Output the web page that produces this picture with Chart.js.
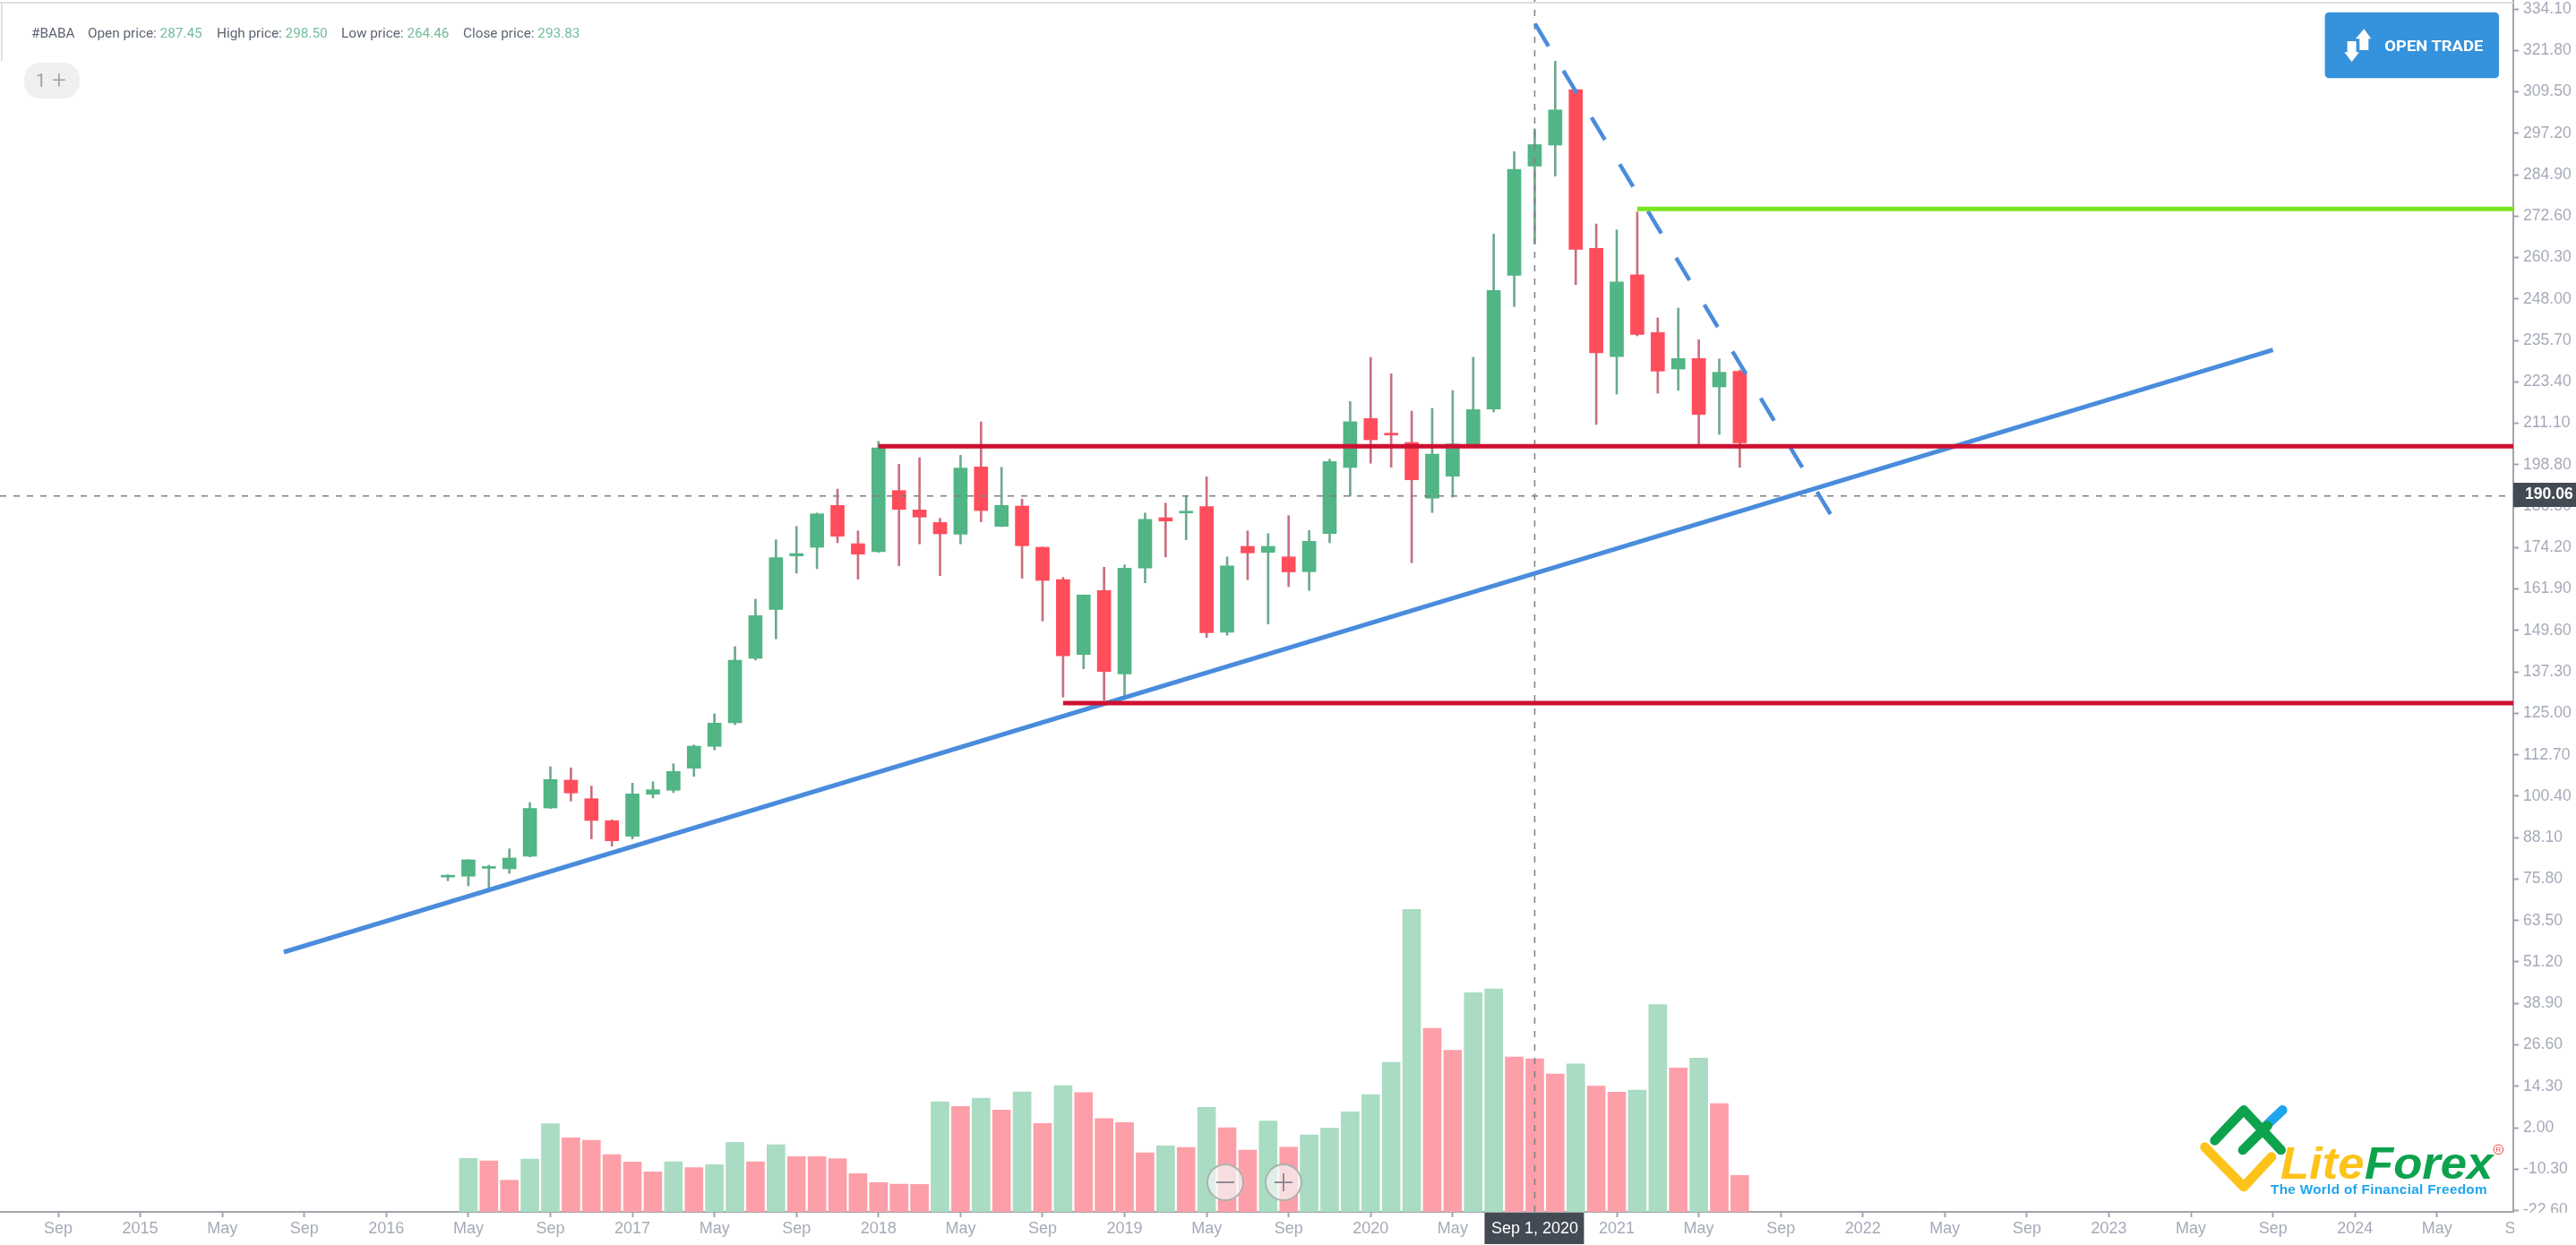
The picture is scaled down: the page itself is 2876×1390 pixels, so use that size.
<!DOCTYPE html>
<html><head><meta charset="utf-8">
<script src="https://cdn.jsdelivr.net/npm/chart.js@4/dist/chart.umd.min.js"></script>
<style>
html,body{margin:0;padding:0;background:#fff;width:2876px;height:1390px;overflow:hidden}
#wrap{position:relative;width:2876px;height:1390px;font-family:Roboto,sans-serif}
canvas{position:absolute;left:0;top:0}
.t{position:absolute;top:28px;font-size:15.3px;line-height:18px;color:#5c6472;white-space:nowrap}
.v{color:#72bd9b}
#pill{position:absolute;left:27px;top:70px;width:62px;height:40px;border-radius:18px;background:#f0f0f0;color:#a0a0a0;font-size:20px}
.frame{position:absolute;background:#dfdfdf}
svg{position:absolute}
.zb{position:absolute;top:1299px;width:42px;height:42px;border-radius:50%;background:rgba(245,245,245,.72);border:2px solid #aab2ad;box-sizing:border-box}
</style></head><body>
<div id="wrap">
<canvas id="c" width="2876" height="1390"></canvas>
<div class="frame" style="left:0;top:2px;width:2806px;height:2px"></div>
<div class="frame" style="left:1px;top:2px;width:2px;height:66px"></div>
<div class="t" style="left:35px">#BABA</div>
<div class="t" style="left:98px">Open price: <span class="v">287.45</span></div>
<div class="t" style="left:242px">High price: <span class="v">298.50</span></div>
<div class="t" style="left:381px">Low price: <span class="v">264.46</span></div>
<div class="t" style="left:517px">Close price: <span class="v">293.83</span></div>
<div id="pill"><span style="position:absolute;left:13px;top:8px">1</span><span style="position:absolute;left:31px;top:3px;font-size:28px;font-weight:300">+</span></div>

<svg style="left:2500px;top:0" width="376" height="300" viewBox="0 0 1128 900">
<rect x="287" y="41" width="583" height="221" rx="14" fill="#3592dc"/>
<path d="M418 97 L442 130 L433 130 L433 168 L403 168 L403 130 L390 130 Z" fill="#fff"/>
<path d="M377 207 L402 175 L392 175 L392 138 L362 138 L362 175 L352 175 Z" fill="#fff"/>
<text x="487" y="170" font-family="Roboto" font-weight="700" font-size="52" fill="#fff" textLength="330" lengthAdjust="spacingAndGlyphs">OPEN TRADE</text>
</svg>

<div class="zb" style="left:1347px"><div style="position:absolute;left:9px;top:18px;width:20px;height:2px;background:#8d8d95"></div></div>
<div class="zb" style="left:1412px"><div style="position:absolute;left:9px;top:18px;width:20px;height:2px;background:#8d8d95"></div><div style="position:absolute;left:18px;top:9px;width:2px;height:20px;background:#8d8d95"></div></div>

<svg style="left:2400px;top:1180px" width="476" height="210" viewBox="0 0 1428 630">
<path d="M385 235 L445 178" stroke="#1fa5ec" stroke-width="32" stroke-linecap="round" fill="none"/>
<path d="M218 280 L315 178 L440 312" stroke="#0da34d" stroke-width="32" stroke-linecap="round" stroke-linejoin="round" fill="none"/>
<path d="M312 312 L395 230" stroke="#0da34d" stroke-width="32" stroke-linecap="round" fill="none"/>
<path d="M185 302 L315 435 L408 335" stroke="#fdc31a" stroke-width="32" stroke-linecap="round" stroke-linejoin="round" fill="none"/>
<text x="438" y="408" font-family="Liberation Sans" font-weight="700" font-style="italic" font-size="150" fill="#fdc31a" textLength="280" lengthAdjust="spacingAndGlyphs">Lite</text>
<text x="720" y="408" font-family="Liberation Sans" font-weight="700" font-style="italic" font-size="150" fill="#0da34d" textLength="430" lengthAdjust="spacingAndGlyphs">Forex</text>
<text x="405" y="458" font-family="Liberation Sans" font-weight="700" font-size="46" fill="#1fa5ec" textLength="725" lengthAdjust="spacing">The World of Financial Freedom</text>
<circle cx="1168" cy="310" r="16" fill="none" stroke="#ee4040" stroke-width="3"/>
<text x="1168" y="319" text-anchor="middle" font-family="Liberation Sans" font-size="24" fill="#ee4040">R</text>
</svg>
</div>
<script>
// Month index: 0 = Sep 2014, one step per month. First candle is Apr 2016 (19).
const firstCandleMonth = 19;
const opens  = [76.4,76.64,79.0,78.85,82.58,96.92,105.17,99.66,93.12,88.5,100.99,102.17,108.71,115.19,122.18,141.33,155.87,171.72,174.3,186.72,175.36,172.97,191.13,185.39,181.66,178.21,198.15,180.5,186.53,174.3,164.73,142.47,161.46,136.73,168.11,183.07,184.48,186.35,149.04,174.57,172.78,171.45,167.04,178.37,197.96,212.51,208.07,205.41,188.85,195.39,204.88,215.33,255.05,287.45,293.69,310.17,263.03,230.86,255.21,238.04,227.21,230.32,221.9,226.5];
const highs  = [77.1,81.6,79.91,84.78,98.52,109.15,108.81,103.39,93.39,104.29,104.72,110.03,115.62,124.85,144.8,158.9,176.51,180.5,184.48,191.58,179.17,205.76,198.95,200.89,182.89,201.61,211.52,198.05,188.57,174.38,165.34,160.2,168.37,169.06,184.48,187.41,189.46,195.23,171.45,179.17,178.37,183.69,179.27,200.44,217.56,230.67,225.8,214.72,215.51,220.83,230.67,267.28,291.74,298.5,318.6,310.2,270.29,268.51,273.83,242.37,245.29,235.91,230.22,226.95];
const lows   = [75.3,73.79,73.08,77.52,82.39,96.74,98.97,87.7,85.57,87.7,99.93,101.45,106.32,114.13,121.65,140.8,147.1,166.59,167.92,175.63,164.81,172.78,168.79,175.29,165.88,175.29,181.82,180.42,165.07,152.42,129.82,138.21,128.91,130.25,163.74,171.45,176.51,147.53,148.16,164.65,151.52,162.6,161.46,175.63,189.46,199.22,198.05,169.7,184.59,189.19,204.75,214.45,245.74,264.46,284.46,252.29,210.73,219.77,237.05,220.03,220.91,204.35,207.8,198.05];
const closes = [76.7,81.51,79.2,82.04,96.74,105.36,101.36,93.2,87.17,101.1,102.32,107.75,115.27,122.1,140.8,154.01,171.19,172.44,184.22,177.57,172.26,203.81,185.55,183.26,178.29,197.78,185.2,186.72,174.75,164.46,142.05,160.13,137.42,168.11,182.62,182.09,184.94,148.96,168.79,172.63,174.57,166.99,176.08,199.75,211.6,206.21,207.62,194.32,201.95,204.96,215.17,250.53,286.51,293.83,304.13,262.76,232.0,253.08,237.5,226.6,230.32,213.73,226.23,205.33];

// Volume bars start one month later than the candles (May 2016).
const firstVolumeMonth = 20;
const volumes = [15.86,15.15,9.39,15.68,26.14,21.97,21.26,17.01,14.79,11.87,14.88,13.11,13.99,20.64,14.88,19.93,16.39,16.39,15.77,11.34,8.68,8.23,8.15,32.7,31.28,33.76,30.21,35.62,26.23,37.48,35.44,27.73,26.49,17.54,19.58,19.14,31.01,24.99,18.34,26.94,19.22,22.86,24.81,29.68,34.82,44.4,89.77,54.5,47.94,65.05,66.2,45.99,45.46,40.94,43.95,37.31,35.53,36.15,61.5,42.71,45.64,32.17,10.81];
const volumeUp = [1,0,0,1,1,0,0,0,0,0,1,0,1,1,0,1,0,0,0,0,0,0,0,1,0,1,0,1,0,1,0,0,0,0,1,0,1,0,0,1,0,1,1,1,1,1,1,0,0,1,1,0,0,0,1,0,0,1,1,0,1,0,0];

const priceTicks = [334.1,321.8,309.5,297.2,284.9,272.6,260.3,248.0,235.7,223.4,211.1,198.8,186.5,174.2,161.9,149.6,137.3,125.0,112.7,100.4,88.1,75.8,63.5,51.2,38.9,26.6,14.3,2.0,-10.3,-22.6];
const timeTickMonths = [0,4,8,12,16,20,24,28,32,36,40,44,48,52,56,60,64,68,72,76,80,84,88,92,96,100,104,108,112,116,120];
const timeTickLabels = ['Sep','2015','May','Sep','2016','May','Sep','2017','May','Sep','2018','May','Sep','2019','May','Sep','2020','May','Sep','2021','May','Sep','2022','May','Sep','2023','May','Sep','2024','May','Sep'];

// Drawn tools [month, price]
const riseLine    = [[11.0,54.12],[108.0,232.9]];
const fallLine    = [[72.02,329.66],[86.57,182.65]];
const resistLine  = [[40,204.26],[119.72,204.26]];
const supportLine = [[49,128.04],[119.72,128.04]];
const greenLine   = [[77,274.73],[119.72,274.73]];
const crossMonth = 72, crossPrice = 189.55;
const crossDateLabel = 'Sep 1, 2020', crossPriceLabel = '190.06';

const X_MIN=-2.84, X_MAX=119.72, Y_MIN=-22.99, Y_MAX=336.76;
const GREEN='#51b585', RED='#ff4d5c', GREEN_W='#6fa98d', RED_W='#c8707f', VG='#a9dcc2', VR='#fd9fa9';
const candleMonths = opens.map((_,i)=>firstCandleMonth+i);
const isUp = opens.map((o,i)=>closes[i]>=o);
const pts = a=>a.map(p=>({x:p[0],y:p[1]}));
const lineDs=(data,color,width,order,dash)=>({type:'line',data:pts(data),borderColor:color,borderWidth:width,borderDash:dash||[],pointRadius:0,tension:0,fill:false,order,xAxisID:'x',yAxisID:'y',borderCapStyle:'butt'});

const overlay={id:'overlay',afterDraw(c){
  const g=c.ctx,xs=c.scales.x;
  g.save();
  g.fillStyle='#fff';g.fillRect(2807,1354,69,36);
  g.fillStyle='#434a54';
  const px=xs.getPixelForValue(crossMonth);
  g.fillRect(px-56,1354,111,35);
  g.fillRect(2806,539,70,27);
  g.fillStyle='#fff';g.textBaseline='middle';
  g.font='500 18px "Liberation Sans"';g.textAlign='center';
  g.fillText(crossDateLabel,px,1372);
  g.font='700 17.6px "Liberation Sans"';g.textAlign='left';
  g.fillText(crossPriceLabel,2819,552);
  g.restore();
}};

new Chart(document.getElementById('c'),{
  type:'bar',
  data:{datasets:[
    {type:'bar',data:volumes.map((v,i)=>({x:firstVolumeMonth+i,y:v})),backgroundColor:volumeUp.map(u=>u?VG:VR),barThickness:20,grouped:false,order:10,xAxisID:'x',yAxisID:'vol'},
    {type:'bar',data:candleMonths.map((m,i)=>({x:m,y:[lows[i],highs[i]]})),backgroundColor:isUp.map(u=>u?GREEN_W:RED_W),barThickness:2,grouped:false,order:9,xAxisID:'x',yAxisID:'y'},
    {type:'bar',data:candleMonths.map((m,i)=>({x:m,y:[opens[i],closes[i]]})),backgroundColor:isUp.map(u=>u?GREEN:RED),barThickness:15,grouped:false,order:8,xAxisID:'x',yAxisID:'y',minBarLength:2},
    lineDs([[crossMonth,Y_MIN],[crossMonth,Y_MAX]],'#7c7f85',1.5,6,[7,8]),
    lineDs([[X_MIN,crossPrice],[X_MAX,crossPrice]],'#7c7f85',1.5,6,[7,8]),
    lineDs(riseLine,'#4a8cdc',5,3),
    lineDs(fallLine,'#4a8cdc',4.5,3,[29,32]),
    lineDs(resistLine,'#cf1030',5,2),
    lineDs(supportLine,'#cf1030',5,2),
    lineDs(greenLine,'#76e61e',5,2)
  ]},
  plugins:[overlay],
  options:{
    responsive:false,animation:false,
    layout:{padding:0},
    plugins:{legend:{display:false},tooltip:{enabled:false},title:{display:false}},
    scales:{
      x:{type:'linear',position:'bottom',min:X_MIN,max:X_MAX,offset:false,
        afterFit(s){s.height=37;s.paddingLeft=0;s.paddingRight=0;},
        afterBuildTicks(s){s.ticks=timeTickMonths.map(v=>({value:v}));},
        afterTickToLabelConversion(s){s.ticks.forEach((t,i)=>{t.label=timeTickLabels[i];});},
        border:{display:true,color:'#a4a6ae',width:2},
        grid:{drawOnChartArea:false,drawTicks:true,tickLength:6,tickColor:'#a4a6ae',tickWidth:2,offset:false},
        ticks:{autoSkip:false,maxRotation:0,minRotation:0,padding:2,color:'#a5aab8',font:{family:'"Liberation Sans"',size:18}}},
      y:{type:'linear',position:'right',min:Y_MIN,max:Y_MAX,
        afterFit(s){s.width=70;s.paddingTop=0;s.paddingBottom=0;},
        afterBuildTicks(s){s.ticks=priceTicks.map(v=>({value:v}));},
        border:{display:true,color:'#a4a6ae',width:2},
        grid:{drawOnChartArea:false,drawTicks:true,tickLength:6,tickColor:'#a4a6ae',tickWidth:2},
        ticks:{autoSkip:false,padding:5,color:'#a5aab8',font:{family:'"Liberation Sans"',size:17.6},callback:v=>Number(v).toFixed(2)}},
      vol:{type:'linear',display:false,position:'right',min:0,max:359.75}
    }
  }
});
</script>
</body></html>
